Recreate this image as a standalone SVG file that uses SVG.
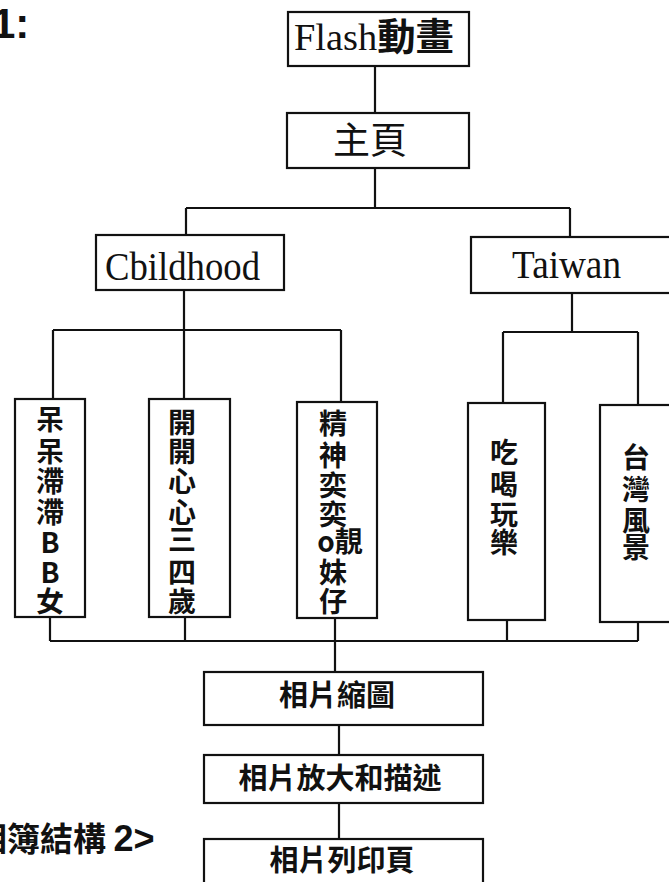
<svg xmlns="http://www.w3.org/2000/svg" width="669" height="882" viewBox="0 0 669 882">
<style>
.box{fill:#fff;stroke:#111;stroke-width:2.2}
.ln{fill:none;stroke:#111;stroke-width:2.2}
.ser{font-family:"Liberation Serif","Noto Sans CJK TC",serif;fill:#111}
.cjk{font-family:"Noto Sans CJK TC",sans-serif;fill:#111}
.vb{font-family:"Noto Sans CJK TC","Liberation Sans",sans-serif;font-weight:bold;font-size:28px;fill:#111;text-anchor:middle}
.hb{font-family:"Noto Sans CJK TC",sans-serif;font-weight:bold;font-size:29px;fill:#111;text-anchor:middle}
</style>
<rect width="669" height="882" fill="#fff"/>
<text x="-8" y="38" font-family="Liberation Sans,sans-serif" font-weight="bold" font-size="42" fill="#111">1:</text>
<text x="-26" y="851" font-family="Noto Sans CJK TC,sans-serif" font-weight="bold" font-size="33" fill="#111">相簿結構 <tspan font-family="Liberation Sans,sans-serif" font-size="36">2&gt;</tspan></text>
<g id="connectors">
<path class="ln" d="M375 66V113M375 168V208M186 208H570M186 208V235M570 208V237"/>
<path class="ln" d="M184 290V400M53 330H341M53 330V399M341 330V402"/>
<path class="ln" d="M572 293V332M503 332H638M503 332V403M638 332V405"/>
<path class="ln" d="M50 617V641M185 617V641M335 618V672M507 620V641M638 622V641M50 641H638"/>
<path class="ln" d="M339 725V755M339 803V839"/>
</g>
<g id="flash"><rect class="box" x="288" y="12" width="181" height="54"/>
<text class="ser" x="294" y="50" font-size="38" textLength="160" lengthAdjust="spacingAndGlyphs">Flash<tspan class="cjk" font-weight="bold">動畫</tspan></text></g>
<g id="home"><rect class="box" x="287" y="113" width="182" height="55"/>
<text class="cjk" x="370" y="154" font-size="37" text-anchor="middle">主頁</text></g>
<g id="childhood"><rect class="box" x="96" y="235" width="188" height="55"/>
<text class="ser" x="105" y="280" font-size="41" textLength="155" lengthAdjust="spacingAndGlyphs">Cbildhood</text></g>
<g id="taiwan"><rect class="box" x="471" y="237" width="210" height="56"/>
<text class="ser" x="512" y="278" font-size="41" textLength="109" lengthAdjust="spacingAndGlyphs">Taiwan</text></g>
<g id="n1"><rect class="box" x="15" y="399" width="70" height="218"/>
<text class="vb"><tspan x="50" y="430">呆</tspan><tspan x="50" y="462">呆</tspan><tspan x="50" y="492">滯</tspan><tspan x="50" y="523">滯</tspan><tspan x="50" y="553">B</tspan><tspan x="50" y="583">B</tspan><tspan x="50" y="612">女</tspan></text></g>
<g id="n2"><rect class="box" x="149" y="399" width="81" height="218"/>
<text class="vb"><tspan x="182" y="433">開</tspan><tspan x="182" y="462">開</tspan><tspan x="182" y="492">心</tspan><tspan x="182" y="523">心</tspan><tspan x="182" y="550">三</tspan><tspan x="182" y="583">四</tspan><tspan x="182" y="612">歲</tspan></text></g>
<g id="n3"><rect class="box" x="297" y="402" width="80" height="216"/>
<text class="vb"><tspan x="333" y="434">精</tspan><tspan x="333" y="466">神</tspan><tspan x="333" y="496">奕</tspan><tspan x="333" y="525">奕</tspan><tspan x="340" y="552">o靚</tspan><tspan x="333" y="583">妹</tspan><tspan x="333" y="612">仔</tspan></text></g>
<g id="n4"><rect class="box" x="468" y="403" width="77" height="217"/>
<text class="vb"><tspan x="504" y="463">吃</tspan><tspan x="504" y="495">喝</tspan><tspan x="504" y="525">玩</tspan><tspan x="504" y="553">樂</tspan></text></g>
<g id="n5"><rect class="box" x="600" y="405" width="80" height="217"/>
<text class="vb"><tspan x="636" y="468">台</tspan><tspan x="636" y="500">灣</tspan><tspan x="636" y="531">風</tspan><tspan x="636" y="558">景</tspan></text></g>
<g id="thumb"><rect class="box" x="204" y="672" width="279" height="53"/>
<text class="hb" x="337" y="706">相片縮圖</text></g>
<g id="zoom"><rect class="box" x="204" y="755" width="279" height="48"/>
<text class="hb" x="340" y="789">相片放大和描述</text></g>
<g id="print"><rect class="box" x="204" y="839" width="279" height="60"/>
<text class="hb" x="342" y="871">相片列印頁</text></g>
</svg>
